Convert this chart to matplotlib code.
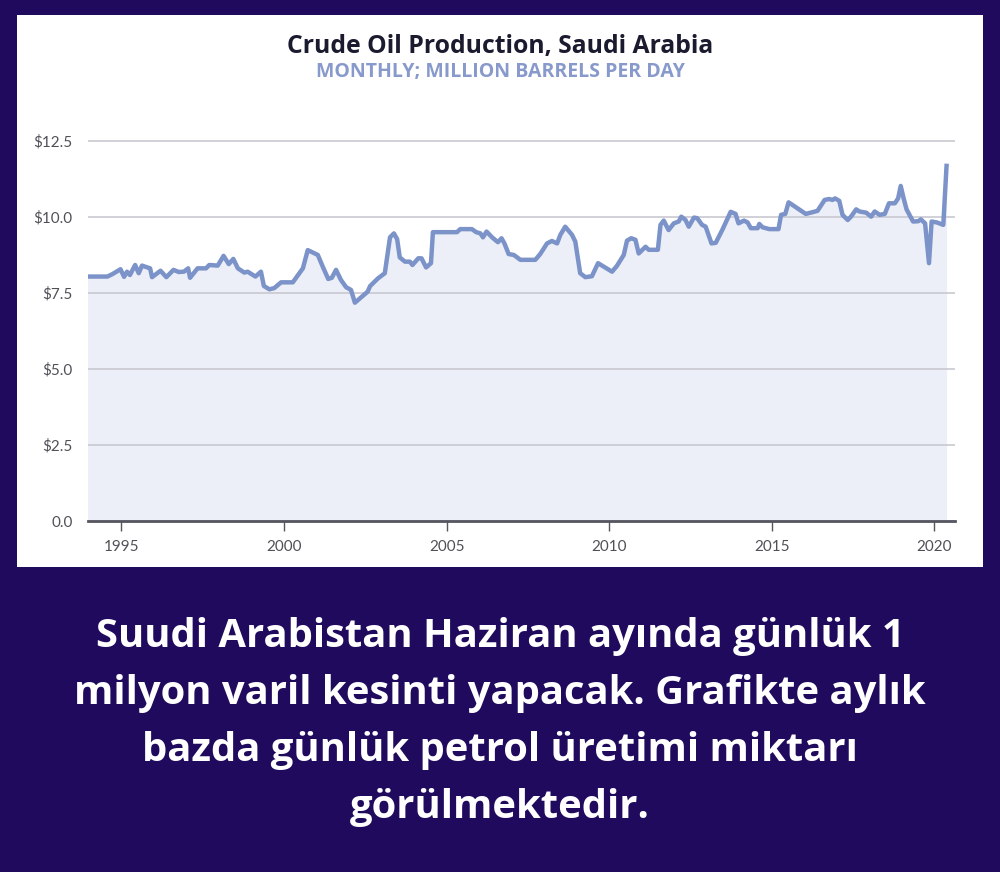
import matplotlib.pyplot as plt
from matplotlib.patches import Rectangle

# monthly crude oil production, Saudi Arabia (mb/d)
years = [1993.95, 1994.57, 1994.72, 1994.97, 1995.08, 1995.17, 1995.26, 1995.42,
         1995.53, 1995.63, 1995.88, 1995.94, 1996.2, 1996.38, 1996.6, 1996.76,
         1996.92, 1997.05, 1997.11, 1997.34, 1997.6, 1997.7, 1997.96, 1998.14,
         1998.3, 1998.44, 1998.58, 1998.78, 1998.88, 1999.12, 1999.29, 1999.38,
         1999.55, 1999.7, 1999.91, 2000.27, 2000.47, 2000.58, 2000.73, 2001.04,
         2001.19, 2001.36, 2001.47, 2001.6, 2001.75, 2001.91, 2002.06, 2002.18,
         2002.57, 2002.65, 2002.89, 2003.1, 2003.26, 2003.38, 2003.48, 2003.56,
         2003.72, 2003.87, 2003.95, 2004.13, 2004.23, 2004.37, 2004.52, 2004.58,
         2005.32, 2005.42, 2005.78, 2005.91, 2006.04, 2006.12, 2006.23, 2006.4,
         2006.58, 2006.69, 2006.78, 2006.91, 2007.07, 2007.27, 2007.73, 2007.88,
         2008.09, 2008.24, 2008.4, 2008.5, 2008.65, 2008.86, 2008.96, 2009.11,
         2009.27, 2009.47, 2009.66, 2010.09, 2010.24, 2010.45, 2010.55, 2010.68,
         2010.81, 2010.91, 2011.12, 2011.22, 2011.32, 2011.5, 2011.58, 2011.68,
         2011.83, 2011.99, 2012.14, 2012.22, 2012.35, 2012.45, 2012.61, 2012.71,
         2012.86, 2012.97, 2013.15, 2013.28, 2013.48, 2013.74, 2013.89, 2013.98,
         2014.15, 2014.26, 2014.36, 2014.57, 2014.62, 2014.72, 2014.93, 2015.21,
         2015.29, 2015.42, 2015.52, 2015.69, 2016.05, 2016.41, 2016.63, 2016.77,
         2016.87, 2016.95, 2017.08, 2017.18, 2017.34, 2017.44, 2017.6, 2017.7,
         2017.91, 2018.06, 2018.17, 2018.32, 2018.48, 2018.61, 2018.79, 2018.89,
         2018.97, 2019.06, 2019.15, 2019.35, 2019.51, 2019.59, 2019.72, 2019.84,
         2019.92, 2020.08, 2020.28, 2020.38]
output = [8.04, 8.04, 8.12, 8.28, 8.03, 8.2, 8.09, 8.42,
          8.15, 8.4, 8.31, 8.02, 8.23, 8.02, 8.26, 8.19,
          8.2, 8.31, 8.0, 8.31, 8.31, 8.42, 8.4, 8.72,
          8.45, 8.62, 8.31, 8.17, 8.2, 8.04, 8.2, 7.73,
          7.62, 7.66, 7.85, 7.85, 8.15, 8.31, 8.91, 8.75,
          8.37, 7.96, 8.0, 8.26, 7.93, 7.69, 7.6, 7.18,
          7.54, 7.73, 7.98, 8.15, 9.33, 9.46, 9.27, 8.67,
          8.53, 8.53, 8.42, 8.64, 8.64, 8.34, 8.48, 9.5,
          9.5, 9.6, 9.6, 9.5, 9.46, 9.33, 9.52, 9.33,
          9.17, 9.3, 9.13, 8.78, 8.75, 8.59, 8.59, 8.78,
          9.13, 9.21, 9.13, 9.41, 9.68, 9.41, 9.19, 8.15,
          8.02, 8.05, 8.48, 8.2, 8.39, 8.75, 9.22, 9.3,
          9.25, 8.8, 9.02, 8.92, 8.92, 8.92, 9.74, 9.88,
          9.57, 9.79, 9.85, 10.01, 9.9, 9.68, 9.98, 9.96,
          9.74, 9.68, 9.13, 9.15, 9.57, 10.17, 10.1, 9.79,
          9.88, 9.82, 9.63, 9.63, 9.77, 9.66, 9.6, 9.6,
          10.07, 10.1, 10.48, 10.36, 10.1, 10.2, 10.56, 10.59,
          10.56, 10.61, 10.53, 10.07, 9.9, 10.01, 10.25, 10.18,
          10.14, 10.01, 10.18, 10.07, 10.1, 10.45, 10.45, 10.61,
          11.02, 10.61, 10.25, 9.85, 9.86, 9.92, 9.79, 8.48,
          9.85, 9.82, 9.74, 11.68]

yticks = [0, 2.5, 5.0, 7.5, 10.0, 12.5]
ytick_labels = ['0.0', '$2.5', '$5.0', '$7.5', '$10.0', '$12.5']
xticks = [1995, 2000, 2005, 2010, 2015, 2020]

title = 'Crude Oil Production, Saudi Arabia'
subtitle = 'MONTHLY; MILLION BARRELS PER DAY'
caption = ['Suudi Arabistan Haziran ayında günlük 1',
           'milyon varil kesinti yapacak. Grafikte aylık',
           'bazda günlük petrol üretimi miktarı',
           'görülmektedir.']

W, H = 1000, 872
fig = plt.figure(figsize=(10, 8.72), dpi=100)
fig.patch.set_facecolor('#200a5e')

# white card behind the chart
fig.add_artist(Rectangle((17 / W, 1 - 567 / H), 966 / W, 552 / H,
                         transform=fig.transFigure, facecolor='white',
                         edgecolor='none', zorder=0))

ax = fig.add_axes([88 / W, 1 - 521 / H, (955 - 88) / W, (521 - 130) / H])
ax.set_facecolor('none')
ax.fill_between(years, output, 0, color='#eceff7', lw=0, zorder=1)
ax.plot(years, output, color='#7b93c9', lw=3.2, solid_joinstyle='round', zorder=3)

ax.set_xlim(1993.97, 2020.64)
ax.set_ylim(0, 12.86)
ax.set_yticks(yticks)
ax.set_yticklabels(ytick_labels)
ax.set_xticks(xticks)
ax.yaxis.grid(True, color='#c4c4cc', lw=1.1, zorder=2)
ax.set_axisbelow(False)
for s in ['top', 'right', 'left']:
    ax.spines[s].set_visible(False)
ax.spines['bottom'].set_color('#555560')
ax.spines['bottom'].set_linewidth(2)
ax.spines['bottom'].set_zorder(4)
ax.tick_params(axis='y', length=0, pad=11, labelsize=11, labelcolor='#505058')
ax.tick_params(axis='x', length=7, width=1, color='#555560', pad=7,
               labelsize=11, labelcolor='#505058')
for lab in ax.get_xticklabels() + ax.get_yticklabels():
    lab.set_fontfamily('Lato')

fig.text(0.5, 1 - 46 / H, title, ha='center', va='center', fontsize=17.8,
         fontweight='bold', color='#1b1b30', family='Open Sans')
fig.text(0.5, 1 - 72 / H, subtitle, ha='center', va='center', fontsize=14,
         fontweight='bold', color='#8899cc', family='Open Sans')

for i, line in enumerate(caption):
    fig.text(0.5, 1 - (636 + 57.3 * i) / H, line, ha='center', va='center',
             fontsize=28.8, fontweight='bold', color='white', family='Open Sans')

fig.savefig('out.png', dpi=100, facecolor=fig.get_facecolor())
